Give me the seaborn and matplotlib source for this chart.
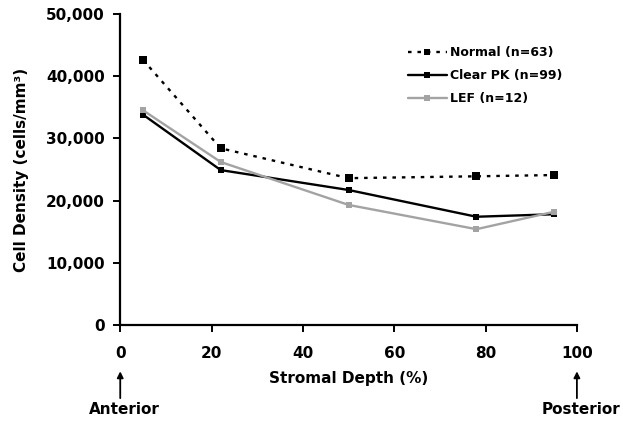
import pandas as pd
import matplotlib
matplotlib.use("Agg")
import matplotlib.pyplot as plt
import seaborn as sns

# Data
depth = [5, 22, 50, 78, 95]
normal = [42600, 28400, 23600, 23900, 24100]
clear_pk = [33800, 24900, 21700, 17400, 17800]
lef = [34500, 26200, 19300, 15400, 18200]
groups = ["Normal (n=63)", "Clear PK (n=99)", "LEF (n=12)"]

sns.set_style("ticks")
plt.rcParams["font.family"] = ["DejaVu Sans"]
plt.rcParams["font.weight"] = "bold"
plt.rcParams["text.color"] = "black"
plt.rcParams["axes.labelcolor"] = "black"
plt.rcParams["xtick.color"] = "black"
plt.rcParams["ytick.color"] = "black"
plt.rcParams["axes.edgecolor"] = "black"

df = pd.DataFrame({
    "depth": depth * 3,
    "density": normal + clear_pk + lef,
    "group": [g for g in groups for _ in depth],
})

fig = plt.figure(figsize=(6.23, 4.21), dpi=100)
ax = fig.add_axes([0.193, 0.228, 0.733, 0.739])

sns.lineplot(
    data=df, x="depth", y="density", hue="group", style="group",
    palette={groups[0]: "black", groups[1]: "black", groups[2]: "#a3a3a3"},
    dashes={groups[0]: (1.5, 2.5), groups[1]: "", groups[2]: ""},
    markers={groups[0]: "s", groups[1]: "s", groups[2]: "s"},
    markersize=4.5, markeredgewidth=0, linewidth=1.7, ax=ax,
)
ax.lines[0].set_markersize(5.2)

ax.set_xlim(0, 100)
ax.set_ylim(0, 50000)
ax.set_xticks(range(0, 101, 20))
ax.set_yticks(range(0, 50001, 10000))
ax.yaxis.set_major_formatter(matplotlib.ticker.StrMethodFormatter("{x:,.0f}"))
ax.tick_params(labelsize=11, width=1.4, length=5, pad=6)
ax.tick_params(axis="x", pad=10)
for lab in ax.get_xticklabels() + ax.get_yticklabels():
    lab.set_fontweight("bold")
sns.despine(ax=ax)
for s in ["left", "bottom"]:
    ax.spines[s].set_linewidth(1.6)

ax.set_xlabel("Stromal Depth (%)", fontsize=11, fontweight="bold", labelpad=7)
ax.set_ylabel("Cell Density (cells/mm³)", fontsize=11, fontweight="bold", labelpad=12)

leg = ax.legend(loc="upper left", bbox_to_anchor=(0.63, 0.896), frameon=False,
                fontsize=9, handlelength=3.1, handletextpad=0.25, labelspacing=0.8,
                borderpad=0, borderaxespad=0)
for t in leg.get_texts():
    t.set_fontweight("bold")

# Anterior / Posterior arrows below the axis
for xv, label in [(0, "Anterior"), (100, "Posterior")]:
    ax.annotate("", xy=(xv, -7000), xytext=(xv, -12200), xycoords="data",
                arrowprops=dict(arrowstyle="-|>", color="black", lw=1.3,
                                mutation_scale=9), annotation_clip=False)
    ax.text(xv + 1, -13600, label, ha="center", va="center", fontsize=11,
            fontweight="bold", clip_on=False)

fig.savefig("out.png", dpi=100)
